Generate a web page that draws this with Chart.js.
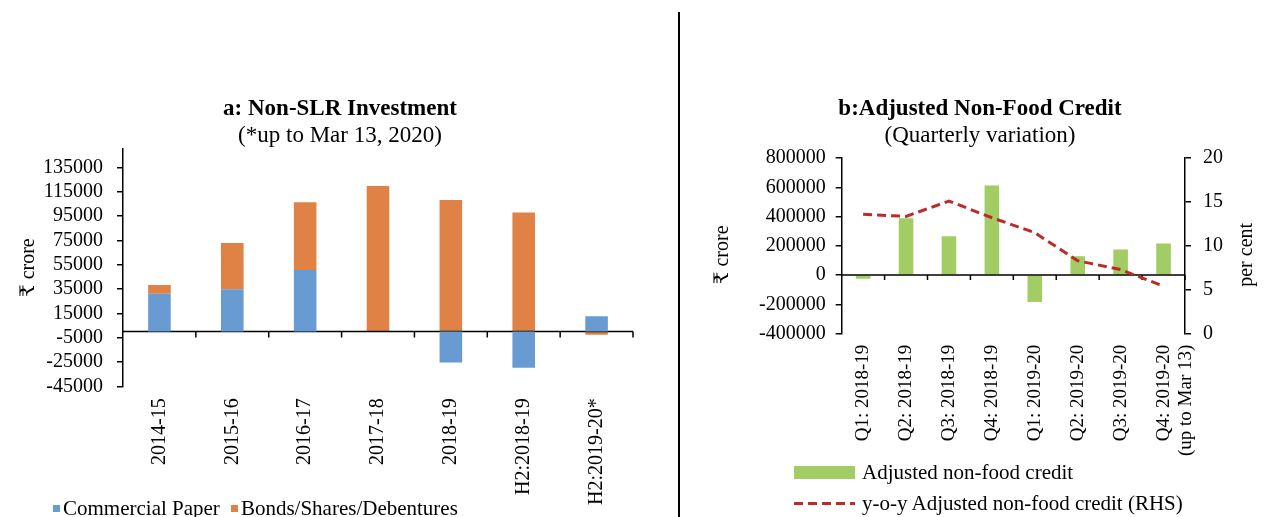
<!DOCTYPE html>
<html>
<head>
<meta charset="utf-8">
<script src="https://cdn.jsdelivr.net/npm/chart.js@4.4.1/dist/chart.umd.min.js"></script>
<style>
  body {
    margin: 0;
    width: 1279px;
    height: 517px;
    overflow: hidden;
    position: relative;
    background: #fff;
    font-family: "Liberation Serif", "DejaVu Serif", serif;
  }
  #cajaA { position: absolute; left: 0; top: 0; width: 680px; height: 517px; }
  #cajaB { position: absolute; left: 690px; top: 0; width: 580px; height: 517px; }
  #divisor { position: absolute; left: 678px; top: 12px; width: 2px; height: 505px; background: #000; }
  .titulo { position: absolute; top: 94px; width: 500px; text-align: center; color: #000; font-size: 23px; line-height: 27px; }
  .titulo b { display: block; }
  #tituloA { left: 90px; }
  #tituloB { left: 730px; }
  .leyenda { position: absolute; color: #000; line-height: 1; }
  .fila { display: flex; align-items: center; white-space: nowrap; }
  #leyendaA { left: 53px; top: 495px; font-size: 21px; }
  #leyendaA .fila { display: inline-flex; margin-right: 11px; }
  #leyendaA .muestra { width: 7px; height: 7px; margin-right: 3px; }
  #leyendaB { left: 794px; top: 462px; font-size: 21px; }
  #leyendaB .fila { height: 20px; margin-bottom: 11px; }
  #leyendaB .muestra { width: 61px; margin-right: 7px; }
</style>
</head>
<body>
<div id="cajaA"><canvas id="graficaA"></canvas></div>
<div id="divisor"></div>
<div id="cajaB"><canvas id="graficaB"></canvas></div>
<div class="titulo" id="tituloA"><b>a: Non-SLR Investment</b>(*up to Mar 13, 2020)</div>
<div class="titulo" id="tituloB"><b>b:Adjusted Non-Food Credit</b>(Quarterly variation)</div>
<div class="leyenda" id="leyendaA"></div>
<div class="leyenda" id="leyendaB"></div>
<script>
// ------------- Datos grafica a: Non-SLR Investment -------------
const categoriasA = ['2014-15', '2015-16', '2016-17', '2017-18', '2018-19', 'H2:2018-19', 'H2:2019-20*'];
const papelComercial = [31000, 34700, 50600, 0, -25400, -29800, 12500];
const bonos = [7300, 38000, 55700, 119700, 108200, 97800, -2700];
const ticksA = [-45000, -25000, -5000, 15000, 35000, 55000, 75000, 95000, 115000, 135000];

// ------------- Datos grafica b: Adjusted Non-Food Credit -------------
const trimestres = ['Q1: 2018-19', 'Q2: 2018-19', 'Q3: 2018-19', 'Q4: 2018-19',
  'Q1: 2019-20', 'Q2: 2019-20', 'Q3: 2019-20', ['Q4: 2019-20', '(up to Mar 13)']];
const creditoAjustado = [-25000, 389000, 266000, 612000, -184000, 128000, 175000, 216000];
const crecimientoAnual = [13.6, 13.35, 15.1, 13.2, 11.5, 8.3, 7.3, 5.4];
const ticksB = [-400000, -200000, 0, 200000, 400000, 600000, 800000];
const ticksB2 = [0, 5, 10, 15, 20];

const fuente = '"Liberation Serif", "DejaVu Serif", serif';
const colorAzul = '#679BD1';
const colorNaranja = '#E08245';
const colorVerde = '#A2CD65';
const colorRojo = '#BB2B27';

// Linea del cero con marcas de categoria (como el eje de Excel)
const ejeCero = {
  id: 'ejeCero',
  afterDatasetDraw(chart, args, opts) {
    if (args.index !== opts.despues) return;
    const { ctx, chartArea } = chart;
    const x = chart.scales.x;
    const y0 = chart.scales.y.getPixelForValue(0);
    const n = chart.data.labels.length;
    ctx.save();
    ctx.strokeStyle = '#000';
    ctx.lineWidth = 1.5;
    ctx.beginPath();
    ctx.moveTo(chartArea.left, y0);
    ctx.lineTo(chartArea.right, y0);
    for (let i = 1; i <= n; i++) {
      const xb = i < n ? (x.getPixelForValue(i - 1) + x.getPixelForValue(i)) / 2 : chartArea.right;
      ctx.moveTo(xb, y0);
      ctx.lineTo(xb, y0 + opts.largo);
    }
    ctx.stroke();
    ctx.restore();
  }
};

// Titulos de los ejes verticales, leidos de abajo hacia arriba
const titulosEje = {
  id: 'titulosEje',
  afterDraw(chart, args, opts) {
    const ctx = chart.ctx;
    opts.lista.forEach(t => {
      const s = chart.scales[t.eje];
      const x = s.position === 'left' ? s.left - t.separacion : s.right + t.separacion;
      ctx.save();
      ctx.font = '20px ' + fuente;
      ctx.fillStyle = '#000';
      ctx.textAlign = 'center';
      ctx.textBaseline = 'middle';
      ctx.translate(x, (s.top + s.bottom) / 2 + t.bajar);
      ctx.rotate(-Math.PI / 2);
      ctx.fillText(t.texto, 0, 0);
      ctx.restore();
    });
  }
};

const textoTick = v => String(v);

// ------------- Grafica a -------------
const graficaA = new Chart(document.getElementById('graficaA'), {
  type: 'bar',
  data: {
    labels: categoriasA,
    datasets: [
      { label: 'Commercial Paper', data: papelComercial, backgroundColor: colorAzul, barPercentage: 0.31, categoryPercentage: 1 },
      { label: 'Bonds/Shares/Debentures', data: bonos, backgroundColor: colorNaranja, barPercentage: 0.31, categoryPercentage: 1 }
    ]
  },
  options: {
    responsive: true,
    maintainAspectRatio: false,
    animation: false,
    layout: { padding: { left: 29, right: 47, top: 149, bottom: 0 } },
    plugins: {
      legend: { display: false },
      tooltip: { enabled: false },
      ejeCero: { despues: 1, largo: 6 },
      titulosEje: { lista: [{ eje: 'y', texto: '₹ crore', separacion: 0, bajar: 0 }] }
    },
    scales: {
      x: {
        stacked: true,
        grid: { display: false, drawTicks: false },
        border: { display: false },
        ticks: { color: '#000', font: { family: fuente, size: 20 }, minRotation: 90, maxRotation: 90, padding: 12, autoSkip: false }
      },
      y: {
        stacked: true,
        min: -45000,
        max: 150000,
        afterBuildTicks: s => { s.ticks = ticksA.map(v => ({ value: v })); },
        grid: { drawOnChartArea: false, color: '#000', tickLength: 6, lineWidth: 1.5 },
        border: { color: '#000', width: 1.5 },
        ticks: { color: '#000', font: { family: fuente, size: 20 }, padding: 14, autoSkip: false, callback: textoTick }
      }
    }
  },
  plugins: [ejeCero, titulosEje]
});

// ------------- Grafica b -------------
const graficaB = new Chart(document.getElementById('graficaB'), {
  type: 'bar',
  data: {
    labels: trimestres,
    datasets: [
      { type: 'bar', label: 'Adjusted non-food credit', data: creditoAjustado, backgroundColor: colorVerde, yAxisID: 'y', barPercentage: 0.34, categoryPercentage: 1, order: 2 },
      { type: 'line', label: 'y-o-y Adjusted non-food credit (RHS)', data: crecimientoAnual, borderColor: colorRojo, backgroundColor: colorRojo, borderDash: [9, 5], borderWidth: 3, pointRadius: 0, tension: 0, yAxisID: 'y1', order: 1 }
    ]
  },
  options: {
    responsive: true,
    maintainAspectRatio: false,
    animation: false,
    layout: { padding: { left: 59, right: 35, top: 158, bottom: 50 } },
    plugins: {
      legend: { display: false },
      tooltip: { enabled: false },
      ejeCero: { despues: 0, largo: 5 },
      titulosEje: { lista: [
        { eje: 'y', texto: '₹ crore', separacion: 26, bajar: 9 },
        { eje: 'y1', texto: 'per cent', separacion: 12, bajar: 9 }
      ] }
    },
    scales: {
      x: {
        grid: { display: false, drawTicks: false },
        border: { display: false },
        ticks: { color: '#000', font: { family: fuente, size: 19 }, minRotation: 90, maxRotation: 90, padding: 11, autoSkip: false }
      },
      y: {
        position: 'left',
        min: -400000,
        max: 800000,
        afterBuildTicks: s => { s.ticks = ticksB.map(v => ({ value: v })); },
        grid: { drawOnChartArea: false, color: '#000', tickLength: 6, lineWidth: 1.5 },
        border: { color: '#000', width: 1.5 },
        ticks: { color: '#000', font: { family: fuente, size: 20 }, padding: 10, autoSkip: false, callback: textoTick }
      },
      y1: {
        position: 'right',
        min: 0,
        max: 20,
        afterBuildTicks: s => { s.ticks = ticksB2.map(v => ({ value: v })); },
        grid: { drawOnChartArea: false, color: '#000', tickLength: 6, lineWidth: 1.5 },
        border: { color: '#000', width: 1.5 },
        ticks: { color: '#000', font: { family: fuente, size: 20 }, padding: 12, autoSkip: false, callback: textoTick }
      }
    }
  },
  plugins: [ejeCero, titulosEje]
});

// ------------- Leyendas (a partir de los datasets) -------------
function armarLeyenda(chart, idCaja) {
  const caja = document.getElementById(idCaja);
  chart.data.datasets.forEach(ds => {
    const fila = document.createElement('div');
    fila.className = 'fila';
    const muestra = document.createElement('span');
    muestra.className = 'muestra';
    if (ds.type === 'line') {
      muestra.style.height = ds.borderWidth + 'px';
      muestra.style.background = `repeating-linear-gradient(90deg, ${ds.borderColor} 0 ${ds.borderDash[0]}px, transparent ${ds.borderDash[0]}px ${ds.borderDash[0] + ds.borderDash[1]}px)`;
    } else {
      if (idCaja === 'leyendaB') muestra.style.height = '13px';
      muestra.style.background = ds.backgroundColor;
    }
    const texto = document.createElement('span');
    texto.textContent = ds.label;
    fila.appendChild(muestra);
    fila.appendChild(texto);
    caja.appendChild(fila);
  });
}

armarLeyenda(graficaA, 'leyendaA');
armarLeyenda(graficaB, 'leyendaB');
</script>
</body>
</html>
